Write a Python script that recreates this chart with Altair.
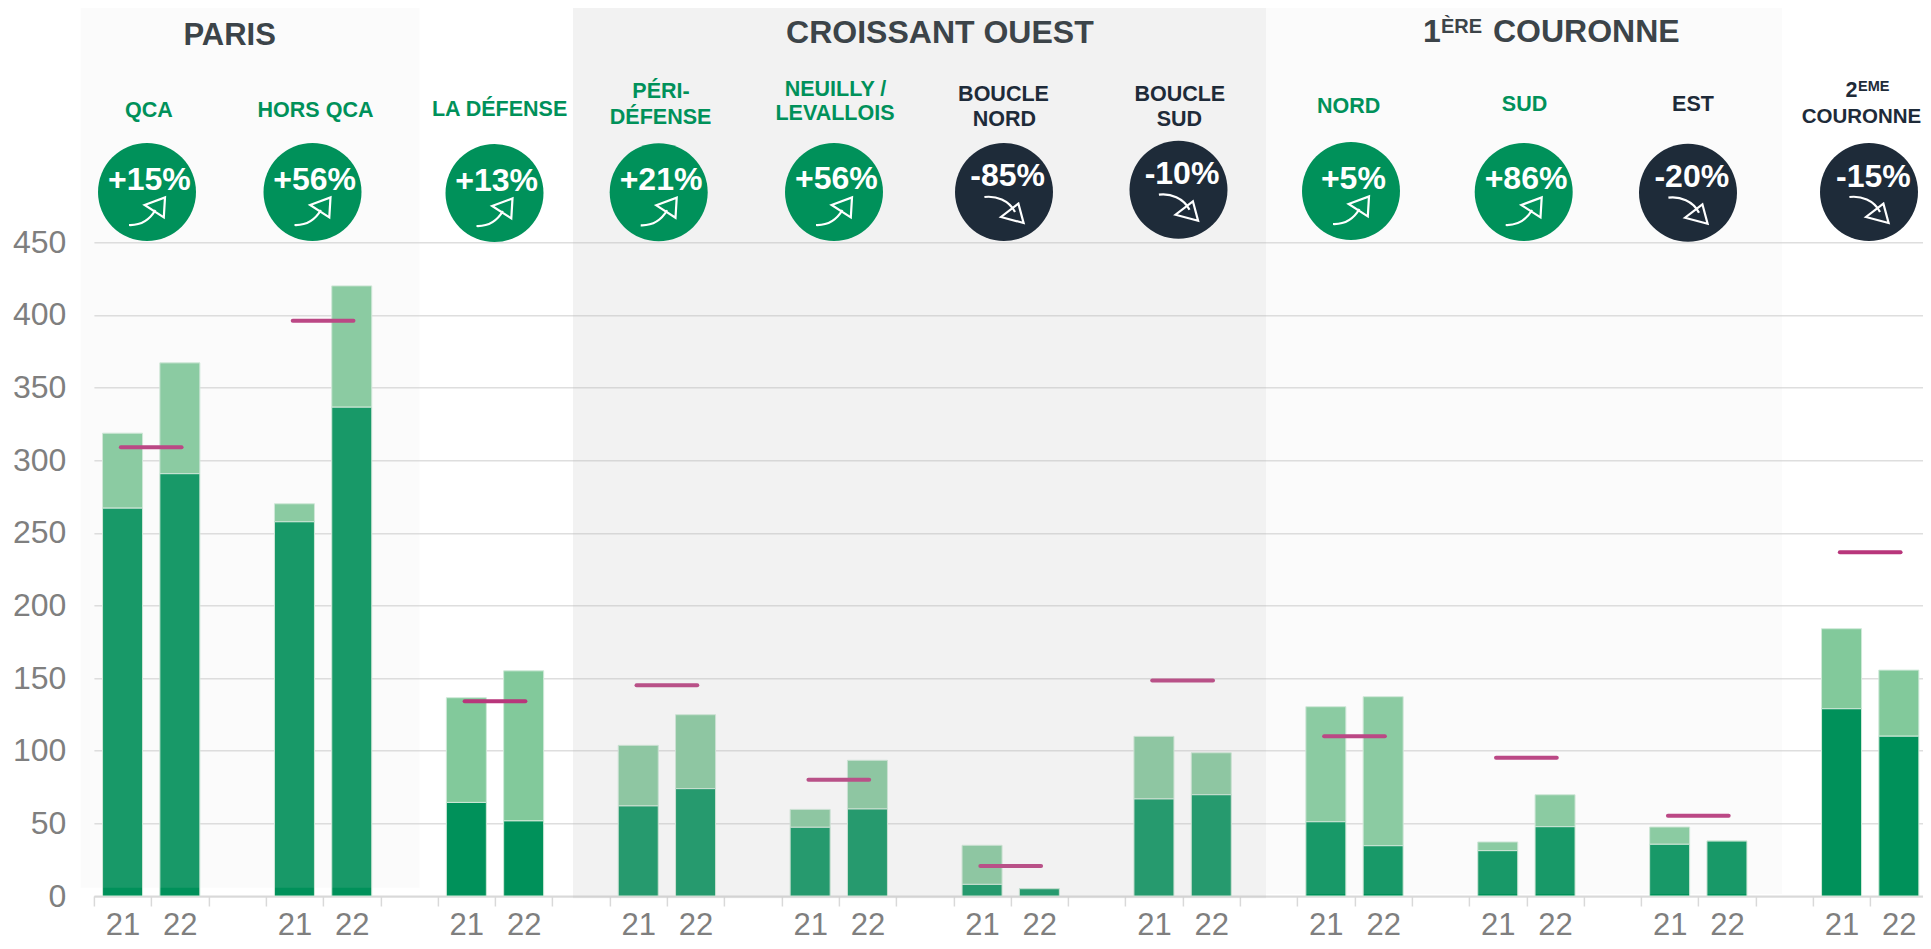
import altair as alt
import pandas as pd

# ---------- chart values ----------
zones = ["QCA", "HORS QCA", "LA DÉFENSE", "PÉRI-DÉFENSE", "NEUILLY / LEVALLOIS", "BOUCLE NORD",
         "BOUCLE SUD", "NORD", "SUD", "EST", "2EME COURONNE"]
pct_labels = ["+15%", "+56%", "+13%", "+21%", "+56%", "-85%", "-10%", "+5%", "+86%", "-20%", "-15%"]
total_21 = [318.6, 270, 136.5, 103.7, 59.6, 34.9, 109.9, 130.3, 37.2, 47.5, 184]
dark_21 = [267, 257.6, 64.4, 62, 47.3, 8, 66.8, 51.1, 31.2, 35.6, 128.9]
total_22 = [367, 420, 155, 124.8, 93.4, 5, 98.6, 137.2, 69.7, 37.8, 155.5]
dark_22 = [290.7, 336.5, 51.7, 73.9, 59.9, 5, 69.7, 34.6, 47.7, 37.8, 110]
target = [309, 396, 134, 145, 80, 20.6, 148.4, 110, 95.2, 55.3, 236.7]
y_ticks = [0, 50, 100, 150, 200, 250, 300, 350, 400, 450]

# ---------- layout (page pixels), kept apart from the values ----------
PX_LEFT, PX_BAND, PX_RIGHT = 93.9, 57.3, 1923.0
PX_ZERO, PX_TOP = 896.0, 242.3
PLOT_W, PLOT_H = PX_RIGHT - PX_LEFT, PX_ZERO - PX_TOP
X_MAX = PLOT_W / PX_BAND
N_TICKS = 32
def to_x(px): return (px - PX_LEFT) / PX_BAND
def to_y(py): return (PX_ZERO - py) * 450 / PLOT_H

GREEN, NAVY = "#00915a", "#1e2b39"
LIGHT = "#82c99b"
MAGENTA = "#b8367b"
HEAD = "#3c4449"
FONT = "Liberation Sans"

circle_px = [147, 312.5, 494.5, 658.7, 834, 1004, 1178.5, 1351, 1523.7, 1688, 1869]
circle_py = [192, 192, 193, 192.3, 192, 192, 189.7, 191, 192, 192.7, 192]
pct_px = [149.4, 314.7, 496.7, 661, 836.4, 1007.6, 1182, 1353.4, 1526, 1691.8, 1873.4]
pct_py = [190, 190, 191, 190.3, 189, 186, 184.3, 189.3, 189.3, 187.3, 187.3]

panel_names = ["paris", "croissant", "couronne"]
panel_x0 = [80.8, 573, 1266]
panel_x1 = [419.6, 1266, 1782]
panel_y0 = [7.3, 4, 4]
panel_y1 = [887.7, 898.3, 894]
panel_fill = ["#d9d9d9", "#bfbfbf", "#d9d9d9"]
panel_alpha = [0.11, 0.2, 0.11]

rows = []
for i, z in enumerate(zones):
    b = i * 3
    for off, d, t, lab in ((0, dark_21[i], total_21[i], "21"), (1, dark_22[i], total_22[i], "22")):
        rows.append(dict(zone=z, yr=lab, c=b + off + 0.5, dark=d, total=t))
bars = pd.DataFrame(rows)

targets = pd.DataFrame(dict(zone=zones, t=target,
                            a=[i * 3 + 1 - 0.53 for i in range(len(zones))],
                            b=[i * 3 + 1 + 0.53 for i in range(len(zones))]))

badges = pd.DataFrame(dict(zone=zones, label=pct_labels,
                           x=[to_x(v) for v in circle_px], y=[to_y(v) for v in circle_py],
                           tx=[to_x(v) for v in pct_px], ty=[to_y(v) for v in pct_py]))
badges["up"] = badges["label"].str.startswith("+")
badges["fill"] = [GREEN if u else NAVY for u in badges["up"]]
badges["ay"] = [to_y(py + (19 if lab[0] == "+" else 18)) for py, lab in zip(circle_py, pct_labels)]

panels = pd.DataFrame(dict(name=panel_names,
                           a=[to_x(v) for v in panel_x0], b=[to_x(v) for v in panel_x1],
                           c=[to_y(v) for v in panel_y0], d=[to_y(v) for v in panel_y1],
                           fill=panel_fill, alpha=panel_alpha))

L, T = 21.5, GREEN
center_text = [
    ("PARIS", 229.6, 45, 31, HEAD),
    ("CROISSANT OUEST", 939.9, 43.3, 32, HEAD),
    ("QCA", 149, 116.7, L, T), ("HORS QCA", 315.5, 116.7, L, T), ("LA DÉFENSE", 499.6, 115.7, L, T),
    ("PÉRI-", 661, 98.3, L, T), ("DÉFENSE", 660.6, 123.7, L, T),
    ("NEUILLY /", 835.5, 96, L, T), ("LEVALLOIS", 835, 120.3, L, T),
    ("BOUCLE", 1003.5, 100.7, L, NAVY), ("NORD", 1004.4, 126, L, NAVY),
    ("BOUCLE", 1179.8, 101, L, NAVY), ("SUD", 1179.4, 126, L, NAVY),
    ("NORD", 1348.6, 113, L, T), ("SUD", 1524.5, 110.7, L, T), ("EST", 1693, 110.7, L, NAVY),
    ("COURONNE", 1861.5, 122.7, 20.5, NAVY),
]
left_text = [
    ("1", 1423, 41.7, 32, HEAD), ("ÈRE", 1441, 32.7, 20, HEAD), ("COURONNE", 1493, 41.7, 32, HEAD),
    ("2", 1845.5, 96.7, L, NAVY), ("EME", 1858, 91, 14.5, NAVY),
]
def text_frame(items):
    return pd.DataFrame([dict(text=t, x=to_x(a), y=to_y(b), fs=s, col=c) for t, a, b, s, c in items])

# ---------- scales and axes ----------
xs = alt.Scale(domain=[0, X_MAX], nice=False, zero=False, padding=0)
ys = alt.Scale(domain=[0, 450], nice=False, padding=0)

x_axis = alt.Axis(values=list(range(N_TICKS)), title=None, grid=False,
                  labelExpr="datum.value % 3 == 0 ? '21' : datum.value % 3 == 1 ? '22' : ''",
                  labelOffset=PX_BAND / 2, labelAlign="center", labelBaseline="alphabetic",
                  labelPadding=28, labelFlush=False, labelOverlap=False, labelBound=False,
                  labelFont=FONT, labelFontSize=31, labelColor="#7f7f7f",
                  tickSize=10, tickColor="#d9d9d9", tickWidth=1.5,
                  domainColor="#d9d9d9", domainWidth=2)
y_axis = alt.Axis(values=y_ticks, title=None, grid=True, gridColor="#dedede", gridWidth=1.5,
                  ticks=False, tickSize=0, domain=False, labelPadding=28, labelOverlap=False, labelBound=False,
                  labelFont=FONT, labelFontSize=32, labelColor="#7f7f7f", labelBaseline="middle")

X = lambda f: alt.X(f, type="quantitative", scale=xs, axis=x_axis, title=None)
Y = lambda f: alt.Y(f, type="quantitative", scale=ys, axis=y_axis, title=None)

BAR_W = 40
BAR_STROKE = "#cfe9d8"

light_layer = alt.Chart(bars).mark_bar(size=BAR_W, color=LIGHT, stroke=BAR_STROKE, strokeWidth=1).encode(
    x=X("c"), y=Y("dark"), y2="total")
dark_layer = alt.Chart(bars).mark_bar(size=BAR_W, color=GREEN, stroke=BAR_STROKE, strokeWidth=1).encode(
    x=X("c"), y=Y("zero"), y2="dark").transform_calculate(zero="0")
target_layer = alt.Chart(targets).mark_rule(color=MAGENTA, strokeWidth=4, strokeCap="round").encode(
    x=X("a"), x2="b", y=Y("t"))
panel_layer = alt.Chart(panels).mark_rect().encode(
    x=X("a"), x2="b", y=Y("d"), y2="c",
    color=alt.Color("fill:N", scale=None, legend=None),
    opacity=alt.Opacity("alpha:Q", scale=None, legend=None))
circle_layer = alt.Chart(badges).mark_point(filled=True, shape="circle", size=98 ** 2, opacity=1).encode(
    x=X("x"), y=Y("y"), color=alt.Color("fill:N", scale=None, legend=None))
pct_layer = alt.Chart(badges).mark_text(font=FONT, fontWeight="bold", fontSize=32, color="white",
                                        align="center", baseline="alphabetic").encode(
    x=X("tx"), y=Y("ty"), text="label:N")

UP = "M-0.9,0.7 C-0.4,0.72 0.1,0.5 0.42,-0.05 M-0.12,-0.3 L0.9,-0.68 L0.84,0.32 Z"
DOWN = "M-0.98,-0.65 C-0.4,-0.72 0.25,-0.5 0.55,0.1 M-0.15,0.35 L0.98,0.65 L0.72,-0.32 Z"
arrow_up = alt.Chart(badges[badges["up"]]).mark_point(shape=UP, size=1600, filled=False, opacity=1,
                                                      stroke="white", strokeWidth=2.2).encode(x=X("x"), y=Y("ay"))
arrow_down = alt.Chart(badges[~badges["up"]]).mark_point(shape=DOWN, size=1600, filled=False, opacity=1,
                                                         stroke="white", strokeWidth=2.2).encode(x=X("x"), y=Y("ay"))

def text_layer(items, align):
    return alt.Chart(text_frame(items)).mark_text(font=FONT, fontWeight="bold", align=align,
                                                  baseline="alphabetic").encode(
        x=X("x"), y=Y("y"), text="text:N",
        size=alt.Size("fs:Q", scale=None, legend=None),
        color=alt.Color("col:N", scale=None, legend=None))

chart = alt.layer(light_layer, dark_layer, target_layer, panel_layer, circle_layer, pct_layer,
                  arrow_up, arrow_down, text_layer(center_text, "center"), text_layer(left_text, "left")
                  ).properties(
    width=PLOT_W, height=PLOT_H,
    padding={"left": PX_LEFT - 8, "top": PX_TOP - 8, "right": 0, "bottom": 45},
    autosize=alt.AutoSizeParams(type="none"),
    background="white",
).configure_view(stroke=None)

chart.save("out.html", embed_options={"renderer": "svg", "actions": False})
